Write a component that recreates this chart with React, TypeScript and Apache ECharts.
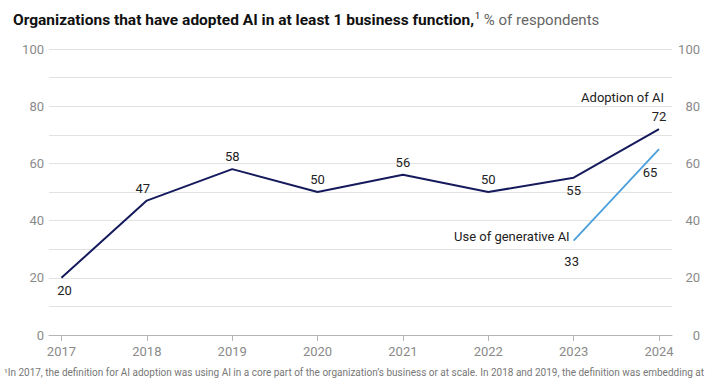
import React, { useEffect, useRef } from "react";
import * as echarts from "echarts";

const years = [2017, 2018, 2019, 2020, 2021, 2022, 2023, 2024];
const adoption = [20, 47, 58, 50, 56, 50, 55, 72];
const genAiYears = [2023, 2024];
const genAi = [33, 65];
const yTicks = [0, 20, 40, 60, 80, 100];
const seriesNames = ["Adoption of AI", "Use of generative AI"];
const titleMain = "Organizations that have adopted AI in at least 1 business function,";
const titleSub = " % of respondents";
const footnote =
  "\u00B9In 2017, the definition for AI adoption was using AI in a core part of the organization\u2019s business or at scale. In 2018 and 2019, the definition was embedding at";

const NAVY = "#141a5c";
const BLUE = "#4a9fdc";
const FONT = "Roboto, 'Noto Sans', sans-serif";

export default function App() {
  const ref = useRef<HTMLDivElement>(null);
  useEffect(() => {
    if (!ref.current) return;
    const chart = echarts.init(ref.current, null, { renderer: "svg" });
    const lbl = { color: "#222", fontSize: 13, fontFamily: FONT };
    const adoptLabel = (i: number) => {
      const below = i === 0 || i === 6;
      const base: any = {
        show: true,
        position: below ? "bottom" : "top",
        distance: 6,
        ...lbl,
      };
      if (i === 0) base.offset = [3, 0];
      if (i === 1) base.offset = [-4, 0];
      return base;
    };
    const yAxisCommon = {
      type: "value",
      min: 0,
      max: 100,
      interval: 10,
      axisLine: { show: false },
      axisTick: { show: false },
      splitLine: { show: true, lineStyle: { color: "#e2e2e2", width: 1 } },
    };
    chart.setOption({
      animation: false,
      textStyle: { fontFamily: FONT },
      title: {
        left: 8,
        top: 6,
        text: `{b|${titleMain}}{s|1}{r|${titleSub}}`,
        textStyle: {
          rich: {
            b: { fontSize: 15.5, fontWeight: "bold", color: "#111", fontFamily: FONT },
            s: { fontSize: 9, fontWeight: "normal", color: "#111", fontFamily: FONT, padding: [0, 0, 9, 1] },
            r: { fontSize: 15, fontWeight: "normal", color: "#666", fontFamily: FONT },
          },
        },
      },
      grid: { left: 49, right: 48, top: 49, bottom: 45 },
      xAxis: {
        type: "value",
        min: 2016.854,
        max: 2024.152,
        axisLine: { show: true, lineStyle: { color: "#b5b5b5", width: 1 } },
        axisTick: {
          show: true,
          length: 6,
          lineStyle: { color: "#b5b5b5" },
          customValues: years,
        },
        axisLabel: {
          customValues: years,
          color: "#8a8a8a",
          fontSize: 13,
          margin: 10,
          fontFamily: FONT,
          formatter: (v: number) => String(v),
        },
        splitLine: { show: false },
      },
      yAxis: [
        {
          ...yAxisCommon,
          position: "left",
          axisLabel: {
            color: "#8a8a8a",
            fontSize: 13,
            margin: 5,
            fontFamily: FONT,
            formatter: (v: number) => (yTicks.includes(v) ? String(v) : ""),
          },
        },
        {
          ...yAxisCommon,
          position: "right",
          splitLine: { show: false },
          axisLabel: {
            color: "#8a8a8a",
            fontSize: 13,
            margin: 28,
            align: "right",
            fontFamily: FONT,
            formatter: (v: number) => (yTicks.includes(v) ? String(v) : ""),
          },
        },
      ],
      series: [
        {
          name: seriesNames[0],
          type: "line",
          data: years.map((y, i) => ({ value: [y, adoption[i]], label: adoptLabel(i) })),
          symbol: "circle",
          symbolSize: 0,
          showSymbol: true,
          lineStyle: { color: NAVY, width: 2 },
          itemStyle: { color: NAVY },
          z: 3,
          markPoint: {
            symbol: "circle",
            symbolSize: 0,
            silent: true,
            data: [
              {
                coord: [years[years.length - 1], adoption[adoption.length - 1]],
                label: {
                  show: true,
                  formatter: seriesNames[0],
                  position: "inside",
                  align: "right",
                  verticalAlign: "middle",
                  offset: [5, -32],
                  ...lbl,
                },
              },
            ],
          },
        },
        {
          name: seriesNames[1],
          type: "line",
          data: genAiYears.map((y, i) => ({
            value: [y, genAi[i]],
            label:
              i === 0
                ? { show: true, position: "bottom", distance: 14, offset: [-2, 0], ...lbl }
                : { show: true, position: "bottom", distance: 5, offset: [-9, 12], ...lbl },
          })),
          symbol: "circle",
          symbolSize: 0,
          showSymbol: true,
          lineStyle: { color: BLUE, width: 1.8 },
          itemStyle: { color: BLUE },
          z: 2,
          markPoint: {
            symbol: "circle",
            symbolSize: 0,
            silent: true,
            data: [
              {
                coord: [genAiYears[0], genAi[0]],
                label: {
                  show: true,
                  formatter: seriesNames[1],
                  position: "inside",
                  align: "right",
                  verticalAlign: "middle",
                  offset: [-4, -4],
                  ...lbl,
                },
              },
            ],
          },
        },
      ],
      graphic: [
        {
          type: "text",
          left: 4,
          top: 367,
          style: { text: footnote, fill: "#777", fontSize: 10, fontFamily: FONT },
        },
      ],
    });
    return () => chart.dispose();
  }, []);
  return (
    <div
      ref={ref}
      style={{ position: "fixed", left: 0, top: 0, width: 720, height: 380, background: "#fff" }}
    />
  );
}
